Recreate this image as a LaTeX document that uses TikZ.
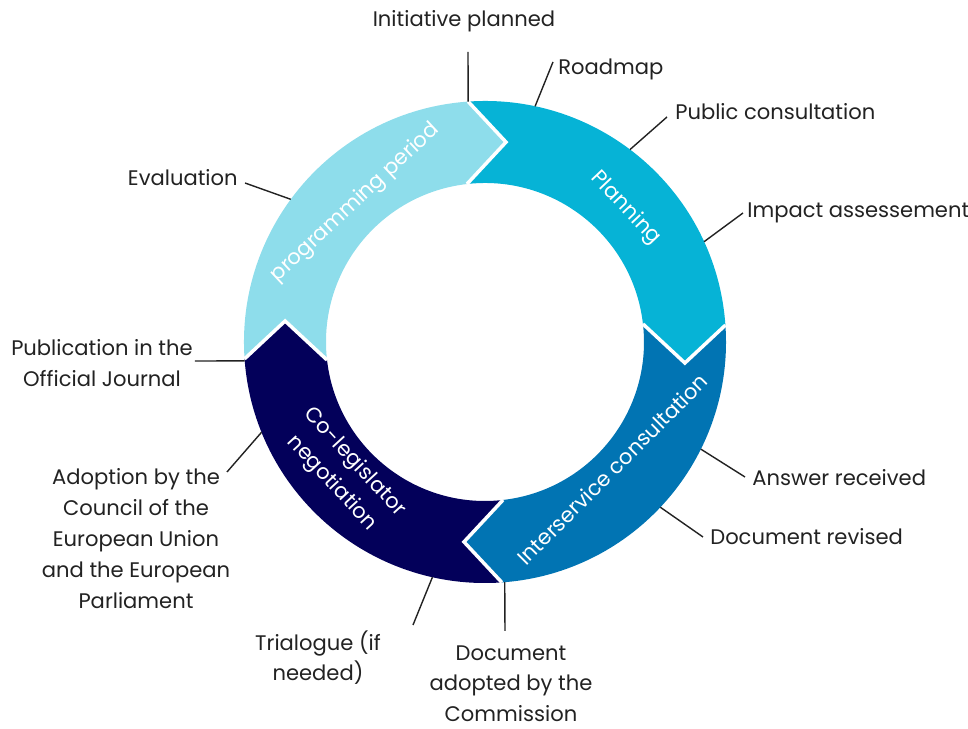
\documentclass[tikz,border=0pt]{standalone}
\usepackage{fontspec}
\setmainfont{Poppins}
\definecolor{lcLight}{HTML}{8EDDEB}
\definecolor{lcPlan}{HTML}{06B3D6}
\definecolor{lcInter}{HTML}{0174B3}
\definecolor{lcNavy}{HTML}{03005A}
\definecolor{lcText}{HTML}{222222}

\begin{document}
\begin{tikzpicture}[x=0.02cm, y=0.02cm,
  lbl/.style={text=lcText, inner sep=0pt, font=\fontsize{12}{17.6}\selectfont},
  seglbl/.style={text=white, inner sep=0pt, font=\fontsize{12}{17.6}\selectfont},
  leader/.style={draw=lcText, line width=0.8pt},
  gap/.style={draw=white, line width=2pt, line join=miter}]
  \useasboundingbox (-485,-387) rectangle (483,342);

  % programming period
  \fill[lcLight] (184:241) arc[start angle=184, end angle=94, radius=241] -- (84:201)
    -- (96.5:159) arc[start angle=96.5, end angle=186.5, radius=159] -- (174:201) -- cycle;
  \node[seglbl, rotate=43] (segProg) at (133:190) {programming period};

  % Planning
  \fill[lcPlan] (94:241) arc[start angle=94, end angle=4, radius=241] -- (-6:201)
    -- (6.5:159) arc[start angle=6.5, end angle=96.5, radius=159] -- (84:201) -- cycle;
  \node[seglbl, rotate=-46.5] (segPlan) at (43.5:194) {Planning};

  % Interservice consultation
  \fill[lcInter] (4:241) arc[start angle=4, end angle=-86, radius=241] -- (-96:201)
    -- (-83.5:159) arc[start angle=-83.5, end angle=6.5, radius=159] -- (-6:201) -- cycle;
  \node[seglbl, rotate=45] (segInter) at (-45:180) {Interservice consultation};

  % Co-legislator negotiation
  \fill[lcNavy] (-86:241) arc[start angle=-86, end angle=-176, radius=241] -- (-186:201)
    -- (-173.5:159) arc[start angle=-173.5, end angle=-83.5, radius=159] -- (-96:201) -- cycle;
  \node[seglbl, rotate=-47.3, align=center] (segCo) at (222.7:193) {Co-legislator\\negotiation};

  % white gaps between the arrows
  \draw[gap] (94:241) -- (84:201) -- (96.5:159);
  \draw[gap] (4:241) -- (-6:201) -- (6.5:159);
  \draw[gap] (-86:241) -- (-96:201) -- (-83.5:159);
  \draw[gap] (184:241) -- (174:201) -- (186.5:159);

  % Labels
  \node[lbl, anchor=base] (lblInit) at (-21,315) {Initiative planned};
  \node[lbl, anchor=base west] (lblRoad) at (73,267) {Roadmap};
  \node[lbl, anchor=base west] (lblPublic) at (190,222) {Public consultation};
  \node[lbl, anchor=base west] (lblImpact) at (262,124) {Impact assessement};
  \node[lbl, anchor=base west] (lblAnswer) at (267,-144) {Answer received};
  \node[lbl, anchor=base west] (lblRevised) at (225,-203) {Document revised};
  \node[lbl, anchor=north, align=center] (lblAdopted) at (26,-303) {Document\\adopted by the\\Commission};
  \node[lbl, anchor=north, align=center] (lblTrilog) at (-167,-288) {Trialogue (if\\needed)};
  \node[lbl, anchor=north, align=center] (lblCouncil) at (-349,-126) {Adoption by the\\Council of the\\European Union\\and the European\\Parliament};
  \node[lbl, anchor=north, align=center] (lblJournal) at (-383,3) {Publication in the\\Official Journal};
  \node[lbl, anchor=base east] (lblEval) at (-247,156) {Evaluation};

  % Leader lines
  \coordinate (ringInit) at (94:241);      \coordinate (tipInit) at (-17,290);
  \coordinate (ringRoad) at (78:241);      \coordinate (tipRoad) at (68,280);
  \coordinate (ringPublic) at (53:241);    \coordinate (tipPublic) at (182,225);
  \coordinate (ringImpact) at (24.6:241);  \coordinate (tipImpact) at (258,129);
  \coordinate (ringAnswer) at (-26.4:241); \coordinate (tipAnswer) at (260,-135);
  \coordinate (ringRevised) at (-43.3:241);\coordinate (tipRevised) at (218,-195);
  \coordinate (ringAdopted) at (-85.3:241);\coordinate (tipAdopted) at (20,-289);
  \coordinate (ringTrilog) at (-102.6:241);\coordinate (tipTrilog) at (-72,-283);
  \coordinate (ringCouncil) at (202:241);  \coordinate (tipCouncil) at (-258,-130);
  \coordinate (ringJournal) at (184.5:241);\coordinate (tipJournal) at (-290,-19);
  \coordinate (ringEval) at (143.7:241);   \coordinate (tipEval) at (-240,159);

  \draw[leader] (tipInit) -- (ringInit);
  \draw[leader] (tipRoad) -- (ringRoad);
  \draw[leader] (tipPublic) -- (ringPublic);
  \draw[leader] (tipImpact) -- (ringImpact);
  \draw[leader] (tipAnswer) -- (ringAnswer);
  \draw[leader] (tipRevised) -- (ringRevised);
  \draw[leader] (tipAdopted) -- (ringAdopted);
  \draw[leader] (tipTrilog) -- (ringTrilog);
  \draw[leader] (tipCouncil) -- (ringCouncil);
  \draw[leader] (tipJournal) -- (ringJournal);
  \draw[leader] (tipEval) -- (ringEval);
\end{tikzpicture}
\end{document}
